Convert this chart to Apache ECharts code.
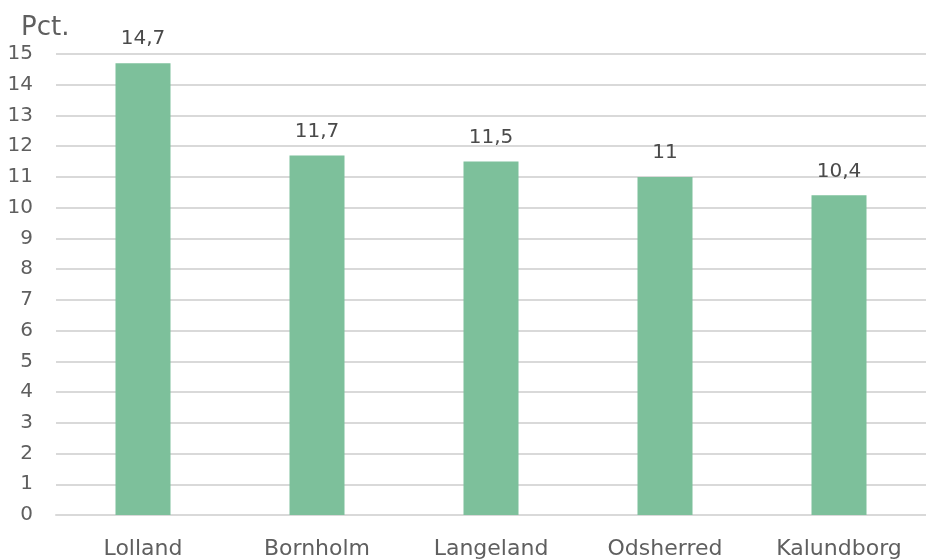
<!DOCTYPE html>
<html><head><meta charset="utf-8">
<script src="https://cdn.jsdelivr.net/npm/echarts@6/dist/echarts.min.js"></script>
<style>html,body{margin:0;padding:0;background:#fff}#c{width:926px;height:560px}</style>
</head><body><div id="c"></div>
<script>
const categories = ['Lolland', 'Bornholm', 'Langeland', 'Odsherred', 'Kalundborg'];
const values = [14.7, 11.7, 11.5, 11, 10.4];
const yTicks = [0, 15, 1];
const yUnit = 'Pct.';

const font = "'Century Gothic', 'DejaVu Sans', sans-serif";
const chart = echarts.init(document.getElementById('c'), null, {renderer: 'canvas'});
chart.setOption({
  animation: false,
  textStyle: {fontFamily: font},
  grid: {left: 56, width: 882, top: 54, bottom: 44, containLabel: false},
  graphic: [{type: 'text', left: 21, top: 15, style: {text: yUnit, font: "26px " + font, fill: '#5f5f5f'}}],
  xAxis: {
    type: 'category', data: categories,
    axisLine: {show: true, lineStyle: {color: '#d9d9d9', width: 2}},
    axisTick: {show: false},
    axisLabel: {color: '#5f5f5f', fontSize: 22, margin: 23, fontFamily: font}
  },
  yAxis: {
    type: 'value', min: yTicks[0], max: yTicks[1], interval: yTicks[2],
    axisLine: {show: false}, axisTick: {show: false},
    splitLine: {lineStyle: {color: '#d9d9d9', width: 2}},
    axisLabel: {color: '#5f5f5f', fontSize: 20, margin: 23, fontFamily: font}
  },
  series: [{
    type: 'bar', data: values, barWidth: 55,
    itemStyle: {color: '#7dc09b'},
    label: {show: true, position: 'top', distance: 14, color: '#4a4a4a', fontSize: 20, fontFamily: font,
      formatter: p => String(p.value).replace('.', ',')}
  }]
});
</script></body></html>
